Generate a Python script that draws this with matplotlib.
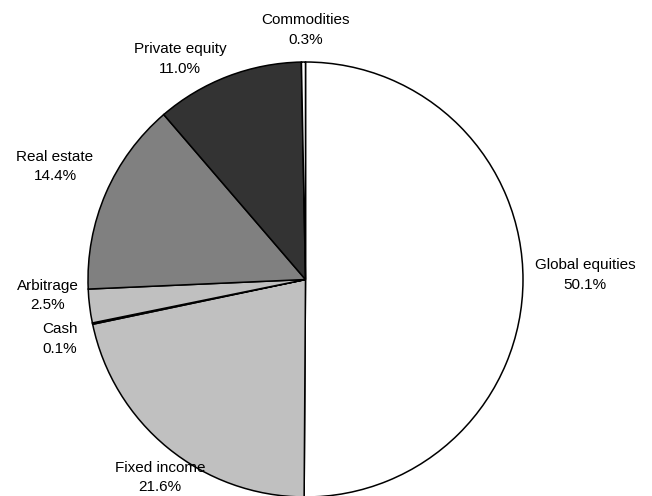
import matplotlib
matplotlib.use("Agg")
import matplotlib.pyplot as plt

# Asset allocation, clockwise from 12 o'clock
categories = ["Global equities", "Fixed income", "Cash", "Arbitrage",
              "Real estate", "Private equity", "Commodities"]
shares = [50.1, 21.6, 0.1, 2.5, 14.4, 11.0, 0.3]
colors = ["#FFFFFF", "#C0C0C0", "#C0C0C0", "#C0C0C0",
          "#808080", "#333333", "#FFFFFF"]

# label anchor points (data units, pie radius = 1)
label_xy = [(1.285, 0.02), (-0.669, -0.910), (-1.129, -0.274), (-1.186, -0.074),
            (-1.152, 0.520), (-0.577, 1.014), (0.0, 1.147)]

plt.rcParams["font.family"] = ["Liberation Sans", "DejaVu Sans"]

fig = plt.figure(figsize=(6.52, 4.96), dpi=100)
ax = fig.add_axes([0, 0, 1, 1])
ax.pie(shares, colors=colors, startangle=90, counterclock=False,
       radius=1.0, center=(0, 0),
       wedgeprops=dict(edgecolor="black", linewidth=1.1))
ax.set_xlim(-1.4046, 1.5931)
ax.set_ylim(-0.9954, 1.2851)
ax.set_aspect("equal")
ax.axis("off")

for name, val, (x, y) in zip(categories, shares, label_xy):
    ax.text(x, y, f"{name}\n{val:.1f}%", ha="center", va="center",
            fontsize=11, linespacing=1.5, color="black")

fig.savefig("out.png", dpi=100)
